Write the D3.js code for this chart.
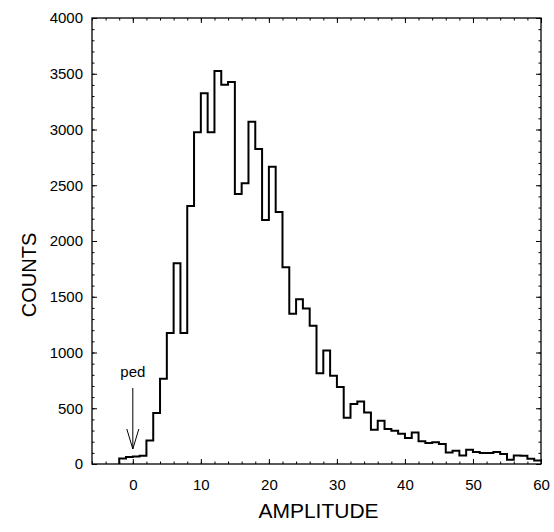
<!DOCTYPE html>
<html>
<head>
<meta charset="utf-8">
<script src="https://cdn.jsdelivr.net/npm/d3@7"></script>
<style>
  body { margin: 0; background: #fff; }
  svg { display: block; font-family: "Liberation Sans", Arial, Helvetica, sans-serif; }
</style>
</head>
<body>
<svg width="554" height="532"></svg>
<script>
// bin lower edges (width 1) and counts
let binStart = -2
let counts = [
  50, 62, 68, 75, 211, 457, 764, 1174, 1801, 1174,
  2315, 2975, 3324, 2975, 3525, 3402, 3427, 2422, 2518, 3070,
  2825, 2189, 2667, 2260, 1765, 1347, 1478, 1395, 1240, 815,
  1018, 791, 690, 415, 538, 561, 462, 307, 388, 314,
  298, 271, 233, 283, 203, 188, 196, 180, 104, 119,
  77, 128, 107, 98, 98, 107, 90, 39, 77, 75,
  47, 32
]
let xTicks = [0, 10, 20, 30, 40, 50, 60]
let yTicks = [0, 500, 1000, 1500, 2000, 2500, 3000, 3500, 4000]
let pedLabel = 'ped'
let pedAt = 0

let svg = d3.select('svg')
let plotL = 92, plotR = 541, plotT = 18, plotB = 464

let x = d3.scaleLinear().domain([-6, 60]).range([plotL, plotR])
let y = d3.scaleLinear().domain([0, 4000]).range([plotB, plotT])

let minorX = d3.range(-6, 61, 2)
let minorY = d3.range(0, 4001, 100)

function axis(g, a) {
  g.call(a)
  g.select('.domain').remove()
  g.selectAll('line').attr('stroke', '#000').attr('stroke-width', 1)
}

// minor ticks
axis(svg.append('g').attr('transform', `translate(0,${plotB})`),
  d3.axisBottom(x).tickValues(minorX).tickSize(-2.5).tickFormat(''))
axis(svg.append('g').attr('transform', `translate(0,${plotT})`),
  d3.axisTop(x).tickValues(minorX).tickSize(-2.5).tickFormat(''))
axis(svg.append('g').attr('transform', `translate(${plotL},0)`),
  d3.axisLeft(y).tickValues(minorY).tickSize(-2.5).tickFormat(''))
axis(svg.append('g').attr('transform', `translate(${plotR},0)`),
  d3.axisRight(y).tickValues(minorY).tickSize(-2.5).tickFormat(''))

// major ticks with labels
axis(svg.append('g').attr('transform', `translate(0,${plotB})`),
  d3.axisBottom(x).tickValues(xTicks).tickSize(-5).tickPadding(15).tickFormat(d3.format('d')))
axis(svg.append('g').attr('transform', `translate(0,${plotT})`),
  d3.axisTop(x).tickValues(xTicks).tickSize(-5).tickFormat(''))
axis(svg.append('g').attr('transform', `translate(${plotL},0)`),
  d3.axisLeft(y).tickValues(yTicks).tickSize(-5).tickPadding(9).tickFormat(d3.format('d')))
axis(svg.append('g').attr('transform', `translate(${plotR},0)`),
  d3.axisRight(y).tickValues(yTicks).tickSize(-5).tickFormat(''))

svg.selectAll('.tick text')
  .attr('font-size', 15)
  .attr('fill', '#000')
  .attr('font-family', '"Liberation Sans", Arial, sans-serif')

// frame
svg.append('rect')
  .attr('x', plotL).attr('y', plotT)
  .attr('width', plotR - plotL).attr('height', plotB - plotT)
  .attr('fill', 'none').attr('stroke', '#000').attr('stroke-width', 1.3)

// histogram
let pts = counts.map((c, i) => [binStart + i, c])
pts.unshift([binStart, 0])
pts.push([binStart + counts.length, counts[counts.length - 1]])
let line = d3.line()
  .x(d => x(d[0]))
  .y(d => y(d[1]))
  .curve(d3.curveStepAfter)
svg.append('path')
  .attr('d', line(pts))
  .attr('fill', 'none')
  .attr('stroke', '#000')
  .attr('stroke-width', 2)

// pedestal arrow
let ax = x(pedAt)
svg.append('line')
  .attr('x1', ax).attr('x2', ax).attr('y1', 388).attr('y2', 449)
  .attr('stroke', '#000').attr('stroke-width', 1)
svg.append('path')
  .attr('d', `M${ax - 6},${429}L${ax},${449}L${ax + 6},${429}`)
  .attr('fill', 'none').attr('stroke', '#000').attr('stroke-width', 1)
svg.append('text')
  .attr('x', ax).attr('y', 377)
  .attr('text-anchor', 'middle')
  .attr('font-size', 15)
  .text(pedLabel)

// axis titles
svg.append('text')
  .attr('x', (plotL + plotR) / 2 + 2).attr('y', 518)
  .attr('text-anchor', 'middle')
  .attr('font-size', 21)
  .text('AMPLITUDE')
svg.append('text')
  .attr('transform', `translate(36,${(plotT + plotB) / 2 + 34}) rotate(-90)`)
  .attr('text-anchor', 'middle')
  .attr('font-size', 20)
  .text('COUNTS')
</script>
</body>
</html>
